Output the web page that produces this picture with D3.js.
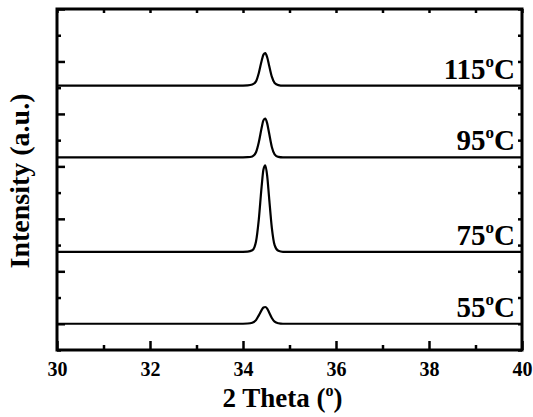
<!DOCTYPE html>
<html>
<head>
<meta charset="utf-8">
<script src="https://cdn.jsdelivr.net/npm/d3@7"></script>
<style>
  body { margin: 0; background: #fff; }
  svg { display: block; }
  text { font-family: "Liberation Serif", "Times New Roman", serif; font-weight: bold; fill: #000; }
</style>
</head>
<body>
<div class="chart"></div>
<script>
// 2 theta positions (deg) shared by all patterns
var twoTheta = [30, 31, 32, 33, 33.9, 34.1, 34.2, 34.28, 34.34, 34.4, 34.44, 34.48, 34.52, 34.56, 34.62, 34.68, 34.76, 34.86, 35, 36, 37, 38, 39, 40];

// intensity above each pattern's own baseline (a.u.)
var i55  = [0, 0, 0, 0, 0, 0.005, 0.02, 0.07, 0.16, 0.26, 0.31, 0.32, 0.29, 0.22, 0.11, 0.04, 0.01, 0, 0, 0, 0, 0, 0, 0];
var i75  = [0, 0, 0, 0, 0, 0.005, 0.03, 0.2, 0.62, 1.24, 1.57, 1.65, 1.45, 1.05, 0.46, 0.13, 0.02, 0, 0, 0, 0, 0, 0, 0];
var i95  = [0, 0, 0, 0, 0, 0.005, 0.02, 0.1, 0.29, 0.56, 0.71, 0.74, 0.65, 0.47, 0.2, 0.06, 0.01, 0, 0, 0, 0, 0, 0, 0];
var i115 = [0, 0, 0, 0, 0, 0.005, 0.02, 0.08, 0.24, 0.47, 0.59, 0.62, 0.54, 0.39, 0.17, 0.05, 0.01, 0, 0, 0, 0, 0, 0, 0];

var temps = ['55', '75', '95', '115'];
var offsets = [0, 1.37, 3.17, 4.54];
var series = [i55, i75, i95, i115];

var xTicks = [30, 32, 34, 36, 38, 40];

var margin = { top: 9, right: 11, bottom: 67, left: 57 };
var width = 533 - margin.left - margin.right;
var height = 417 - margin.top - margin.bottom;

var svg = d3.select('.chart')
  .append('svg')
    .attr('width', 533)
    .attr('height', 417)
  .append('g')
    .attr('transform', 'translate(' + margin.left + ', ' + margin.top + ')');

var xScale = d3.scaleLinear().domain([30, 40]).range([0, width]);
var yScale = d3.scaleLinear().domain([-0.5, 6]).range([height, 0]);

var minorX = d3.range(31, 40, 2);
var majorY = d3.range(0, 6.01, 1);
var minorY = d3.range(-0.5, 6, 1);

// bottom axis: inward ticks, labels
svg.append('g')
    .attr('transform', `translate(0, ${height})`)
    .call(d3.axisBottom(xScale).tickValues(xTicks).tickSizeInner(-9).tickSizeOuter(0).tickPadding(12))
    .call(g => g.selectAll('text').style('font-size', '20px'));
svg.append('g')
    .attr('transform', `translate(0, ${height})`)
    .call(d3.axisBottom(xScale).tickValues(minorX).tickSizeInner(-5).tickSizeOuter(0).tickFormat(''));

// top axis: short inward ticks
svg.append('g')
    .call(d3.axisTop(xScale).tickValues(d3.range(30, 40.01, 1)).tickSizeInner(-4).tickSizeOuter(0).tickFormat(''));

// left axis
svg.append('g')
    .call(d3.axisLeft(yScale).tickValues(majorY).tickSizeInner(-8).tickSizeOuter(0).tickFormat(''));
svg.append('g')
    .call(d3.axisLeft(yScale).tickValues(minorY).tickSizeInner(-4).tickSizeOuter(0).tickFormat(''));

// right axis
svg.append('g')
    .attr('transform', `translate(${width}, 0)`)
    .call(d3.axisRight(yScale).tickValues(majorY.concat(minorY)).tickSizeInner(-4).tickSizeOuter(0).tickFormat(''));

svg.selectAll('.domain').remove();
svg.selectAll('.tick line').attr('stroke', '#000').attr('stroke-width', 2.5);

// frame
svg.append('rect')
    .attr('x', 0).attr('y', 0)
    .attr('width', width).attr('height', height)
    .attr('fill', 'none')
    .attr('stroke', '#000')
    .attr('stroke-width', 3);

var line = d3.line()
    .x(d => xScale(d[0]))
    .y(d => yScale(d[1]))
    .curve(d3.curveMonotoneX);

series.forEach(function(vals, k) {
  var pts = twoTheta.map((t, j) => [t, offsets[k] + vals[j]]);
  svg.append('path')
      .datum(pts)
      .attr('d', line)
      .attr('fill', 'none')
      .attr('stroke', '#000')
      .attr('stroke-width', 2.2);

  var lab = svg.append('text')
      .attr('x', width - 7)
      .attr('y', yScale(offsets[k]) - 7)
      .attr('text-anchor', 'end')
      .style('font-size', '29px');
  lab.append('tspan').text(temps[k]);
  lab.append('tspan').attr('dy', -12).style('font-size', '17px').text('o');
  lab.append('tspan').attr('dy', 12).text('C');
});

// axis titles
var xt = svg.append('text')
    .attr('x', xScale(35) - 7)
    .attr('y', height + 57)
    .attr('text-anchor', 'middle')
    .style('font-size', '27px');
xt.append('tspan').text('2 Theta (');
xt.append('tspan').attr('dy', -11).style('font-size', '16px').text('o');
xt.append('tspan').attr('dy', 11).text(')');

svg.append('text')
    .attr('transform', 'translate(-28, 172) rotate(-90)')
    .attr('text-anchor', 'middle')
    .style('font-size', '28px')
    .text('Intensity (a.u.)');
</script>
</body>
</html>
